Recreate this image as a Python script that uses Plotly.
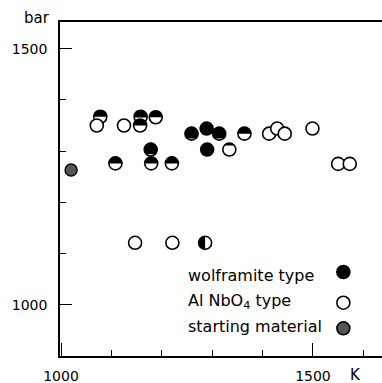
import math
import plotly.graph_objects as go

# ---- data ----
T_K = [1078, 1071, 1125, 1158, 1157, 1188, 1178, 1108, 1179, 1220,
       1259, 1289, 1314, 1290, 1334, 1364, 1413, 1429, 1444, 1499,
       1550, 1573, 1147, 1221, 1286]
P_bar = [1367, 1350, 1350, 1367, 1350, 1366, 1303, 1276, 1276, 1276,
         1334, 1344, 1334, 1303, 1303, 1334, 1334, 1344, 1334, 1344,
         1275, 1275, 1121, 1121, 1121]
# filled fraction of each symbol (wolframite share), and which side is filled
fill_frac = [0.5, 0.0, 0.0, 0.55, 0.5, 0.5, 0.85, 0.5, 0.5, 0.5,
             0.85, 1.0, 0.85, 1.0, 0.2, 0.5, 0.0, 0.0, 0.0, 0.0,
             0.0, 0.0, 0.0, 0.0, 0.5]
fill_side = ["top"] * 24 + ["left"]
start_T = [1020]
start_P = [1263]

x_ticks = [1000, 1500]
y_ticks = [1000, 1500]
legend_labels = ["wolframite type", "Al NbO<sub>4</sub> type", "starting material"]

FONT = "DejaVu Sans"
R = 6.5  # symbol radius in px


def arc_path(a0, a1, r, n):
    step = (a1 - a0) / n
    k = 4.0 / 3.0 * math.tan(step / 4.0)
    x0, y0 = r * math.cos(a0), r * math.sin(a0)
    s = "M%.2f,%.2f" % (x0, y0)
    a = a0
    for _ in range(n):
        b = a + step
        p0 = (r * math.cos(a), r * math.sin(a))
        p3 = (r * math.cos(b), r * math.sin(b))
        p1 = (p0[0] - k * r * math.sin(a), p0[1] + k * r * math.cos(a))
        p2 = (p3[0] + k * r * math.sin(b), p3[1] - k * r * math.cos(b))
        s += " C%.2f,%.2f %.2f,%.2f %.2f,%.2f" % (p1[0], p1[1], p2[0], p2[1], p3[0], p3[1])
        a = b
    return s + " Z"


def cap_path(frac, side, r):
    if side == "left":
        return arc_path(math.pi / 2, 3 * math.pi / 2, r, 2)
    h = r - 2 * r * frac
    h = max(-r, min(r, h))
    al = math.asin(h / r)
    return arc_path(al, math.pi - al, r, 4)


fig = go.Figure()

open_T = [t for t, f in zip(T_K, fill_frac) if f < 1.0]
open_P = [p for p, f in zip(P_bar, fill_frac) if f < 1.0]
full_T = [t for t, f in zip(T_K, fill_frac) if f >= 1.0]
full_P = [p for p, f in zip(P_bar, fill_frac) if f >= 1.0]

fig.add_trace(go.Scatter(x=open_T, y=open_P, mode="markers",
                         marker=dict(symbol="circle", size=2 * R, color="white",
                                     line=dict(color="black", width=1.6)),
                         showlegend=False, hoverinfo="skip"))
fig.add_trace(go.Scatter(x=full_T, y=full_P, mode="markers",
                         marker=dict(symbol="circle", size=2 * R, color="black",
                                     line=dict(color="black", width=1.6)),
                         showlegend=False, hoverinfo="skip"))
fig.add_trace(go.Scatter(x=start_T, y=start_P, mode="markers",
                         marker=dict(symbol="circle", size=2 * R - 1, color="#555555",
                                     line=dict(color="black", width=1.4)),
                         showlegend=False, hoverinfo="skip"))

shapes = []
for t, p, f, sd in zip(T_K, P_bar, fill_frac, fill_side):
    if 0.0 < f < 1.0:
        shapes.append(dict(type="path", xref="x", yref="y",
                           xsizemode="pixel", ysizemode="pixel",
                           xanchor=t, yanchor=p,
                           path=cap_path(f, sd, R + 0.3),
                           fillcolor="black", line=dict(width=0), layer="above"))

# legend keys on an overlaid unit axis
leg_y = [0.2515, 0.1596, 0.0829]
leg_x = [0.88, 0.88, 0.88]
leg_fill = ["black", "white", "#555555"]
fig.add_trace(go.Scatter(x=leg_x, y=leg_y, mode="markers", xaxis="x2", yaxis="y2",
                         marker=dict(symbol="circle", size=2 * R, color=leg_fill,
                                     line=dict(color="black", width=1.6)),
                         showlegend=False, hoverinfo="skip"))

ann = []
for lbl, y in zip(legend_labels, [0.242, 0.163, 0.087]):
    ann.append(dict(text=lbl, xref="paper", yref="paper", x=0.391, y=y,
                    xanchor="left", yanchor="middle", showarrow=False,
                    font=dict(family=FONT, size=16, color="black")))
ann.append(dict(text="bar", xref="paper", yref="paper", x=-0.072, y=1.012,
                xanchor="center", yanchor="middle", showarrow=False,
                font=dict(family=FONT, size=15, color="black")))
ann.append(dict(text="K", xref="paper", yref="paper", x=0.918, y=-0.057,
                xanchor="center", yanchor="middle", showarrow=False,
                font=dict(family=FONT, size=15, color="black")))

fig.update_layout(
    width=382, height=383,
    margin=dict(l=60, r=0, t=22, b=27, pad=0),
    paper_bgcolor="white", plot_bgcolor="white",
    font=dict(family=FONT, size=14, color="black"),
    shapes=shapes, annotations=ann,
    xaxis=dict(range=[998, 1637], tickmode="array", tickvals=x_ticks,
               ticktext=[str(v) for v in x_ticks], automargin=False,
               ticks="inside", ticklen=13, tickwidth=1.4, tickcolor="black",
               minor=dict(tickmode="linear", tick0=1000, dtick=100, ticks="inside",
                          ticklen=6, tickwidth=1.2, tickcolor="black"),
               showline=True, linecolor="black", linewidth=1.5, mirror=True,
               showgrid=False, zeroline=False, ticklabelstandoff=6),
    yaxis=dict(range=[900, 1552], tickmode="array", tickvals=y_ticks,
               ticktext=[str(v) for v in y_ticks], automargin=False,
               ticks="inside", ticklen=12, tickwidth=1.4, tickcolor="black",
               minor=dict(tickmode="linear", tick0=1000, dtick=100, ticks="inside",
                          ticklen=6, tickwidth=1.2, tickcolor="black"),
               showline=True, linecolor="black", linewidth=1.5, mirror=False,
               showgrid=False, zeroline=False, ticklabelstandoff=8),
    xaxis2=dict(overlaying="x", range=[0, 1], visible=False, fixedrange=True,
                automargin=False),
    yaxis2=dict(overlaying="y", range=[0, 1], visible=False, fixedrange=True,
                automargin=False),
)

fig.write_html("out.html",
               config={"displayModeBar": False},
               post_script="document.body.style.margin='0px';"
                           "document.body.style.overflow='hidden';")
